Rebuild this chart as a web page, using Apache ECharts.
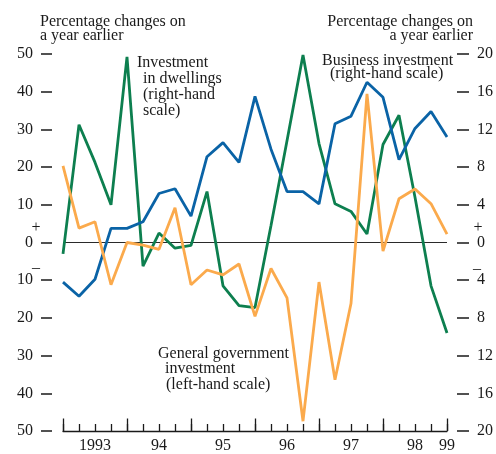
<!DOCTYPE html>
<html>
<head>
<meta charset="utf-8">
<script src="https://cdn.jsdelivr.net/npm/echarts@6/dist/echarts.min.js"></script>
<style>
html,body{margin:0;padding:0;background:#fff;}
#chart{width:496px;height:454px;}
</style>
</head>
<body>
<div id="chart"></div>
<script>
// Quarterly categories 1993Q1 .. 1999Q1
var quarters = [
  '1993Q1','1993Q2','1993Q3','1993Q4',
  '1994Q1','1994Q2','1994Q3','1994Q4',
  '1995Q1','1995Q2','1995Q3','1995Q4',
  '1996Q1','1996Q2','1996Q3','1996Q4',
  '1997Q1','1997Q2','1997Q3','1997Q4',
  '1998Q1','1998Q2','1998Q3','1998Q4',
  '1999Q1'
];
var yearLabels = {'1993':'1993','1994':'94','1995':'95','1996':'96','1997':'97','1998':'98','1999':'99'};

// Investment in dwellings (right-hand scale)
var dwellings = [-1.2, 12.5, 8.5, 4.0, 19.7, -2.5, 1.0, -0.6, -0.3, 5.4, -4.6, -6.7, -6.9,
                 1.8, 10.8, 19.9, 10.5, 4.1, 3.3, 0.9, 10.4, 13.5, 4.8, -4.6, -9.6];
// Business investment (right-hand scale)
var business = [-4.2, -5.7, -3.9, 1.5, 1.5, 2.2, 5.2, 5.7, 2.8, 9.1, 10.6, 8.5, 15.5,
                9.9, 5.4, 5.4, 4.1, 12.6, 13.4, 17.0, 15.4, 8.8, 12.1, 13.9, 11.2];
// General government investment (left-hand scale)
var government = [20.3, 3.8, 5.5, -11.2, 0.0, -0.7, -1.8, 9.2, -11.2, -7.3, -8.6, -5.7, -19.6,
                  -6.9, -14.7, -47.4, -10.5, -36.4, -16.2, 39.4, -2.3, 11.6, 14.2, 10.3, 2.2];

var leftTicks = {min: -50, max: 50, interval: 10};
var rightTicks = {min: -20, max: 20, interval: 4};

var FONT = '"Liberation Serif", "DejaVu Serif", serif';
var TXT = '#1a1a1a';
var FS = 16;

function xLabel(v, idx) {
  var y = v.slice(0, 4), q = v.slice(4);
  if (q === 'Q3') return yearLabels[y];
  if (idx === quarters.length - 1) return yearLabels[y];
  return '';
}

function txt(text, x, y, align) {
  return {
    type: 'text', z: 100,
    style: {text: text, x: x, y: y, font: FS + 'px ' + FONT, fill: TXT,
            textAlign: align || 'left', textVerticalAlign: 'bottom'}
  };
}

var chart = echarts.init(document.getElementById('chart'), null, {renderer: 'canvas'});
var option = {
  animation: false,
  backgroundColor: '#ffffff',
  grid: {left: 63, right: 48, top: 54, bottom: 16.3},
  xAxis: [
    {
      type: 'category', data: quarters, boundaryGap: false, position: 'bottom',
      axisLine: {show: true, onZero: false, lineStyle: {color: '#1a1a1a', width: 1.3}},
      axisTick: {show: true, inside: true, length: 7, interval: 0, lineStyle: {color: '#1a1a1a', width: 1.3}},
      axisLabel: {show: true, interval: 0, margin: 7, color: TXT, fontFamily: FONT, fontSize: FS,
                  formatter: function (v, i) { return xLabel(v, i); }},
      splitLine: {show: false}
    },
    {
      type: 'category', data: quarters, boundaryGap: false, position: 'bottom',
      axisLine: {show: false, onZero: false},
      axisTick: {show: true, inside: true, length: 12.5,
                 interval: function (i) { return i % 4 === 0; },
                 lineStyle: {color: '#1a1a1a', width: 1.3}},
      axisLabel: {show: false},
      splitLine: {show: false}
    }
  ],
  yAxis: [
    {
      type: 'value', position: 'left', offset: 11,
      min: leftTicks.min, max: leftTicks.max, interval: leftTicks.interval,
      axisLine: {show: false},
      axisTick: {show: true, length: 11, lineStyle: {color: '#1a1a1a', width: 1.5}},
      axisLabel: {margin: 19, color: TXT, fontFamily: FONT, fontSize: FS,
                  formatter: function (v) { return String(Math.abs(v)); }},
      splitLine: {show: false}
    },
    {
      type: 'value', position: 'right', offset: 10,
      min: rightTicks.min, max: rightTicks.max, interval: rightTicks.interval,
      axisLine: {show: false},
      axisTick: {show: true, length: 12, lineStyle: {color: '#1a1a1a', width: 1.5}},
      axisLabel: {margin: 20, color: TXT, fontFamily: FONT, fontSize: FS,
                  formatter: function (v) { return String(Math.abs(v)); }},
      splitLine: {show: false}
    }
  ],
  series: [
    {
      name: 'Investment in dwellings', type: 'line', yAxisIndex: 1, data: dwellings,
      symbol: 'none', lineStyle: {color: '#0d7f4f', width: 2.8}, z: 3,
      markLine: {silent: true, symbol: 'none', label: {show: false},
                 lineStyle: {color: '#2a2a2a', width: 1.2, type: 'solid'},
                 data: [{yAxis: 0}], z: 1}
    },
    {
      name: 'Business investment', type: 'line', yAxisIndex: 1, data: business,
      symbol: 'none', lineStyle: {color: '#0a63a6', width: 2.8}, z: 4
    },
    {
      name: 'General government investment', type: 'line', yAxisIndex: 0, data: government,
      symbol: 'none', lineStyle: {color: '#fbaa4c', width: 2.8}, z: 5
    }
  ],
  graphic: [
    txt('Percentage changes on', 40, 30),
    txt('a year earlier', 40, 44),
    txt('Percentage changes on', 473, 30, 'right'),
    txt('a year earlier', 473, 44, 'right'),
    txt('Investment', 137, 71),
    txt('in dwellings', 143, 87),
    txt('(right-hand', 143, 103),
    txt('scale)', 143, 119),
    txt('Business investment', 322, 69),
    txt('(right-hand scale)', 330, 82),
    txt('General government', 158, 362),
    txt('investment', 165, 377),
    txt('(left-hand scale)', 166, 393),
    txt('+', 36, 236, 'center'),
    txt('\u2013', 36, 276, 'center'),
    txt('+', 478, 236, 'center'),
    txt('\u2013', 477, 277, 'center')
  ]
};
chart.setOption(option);
</script>
</body>
</html>
